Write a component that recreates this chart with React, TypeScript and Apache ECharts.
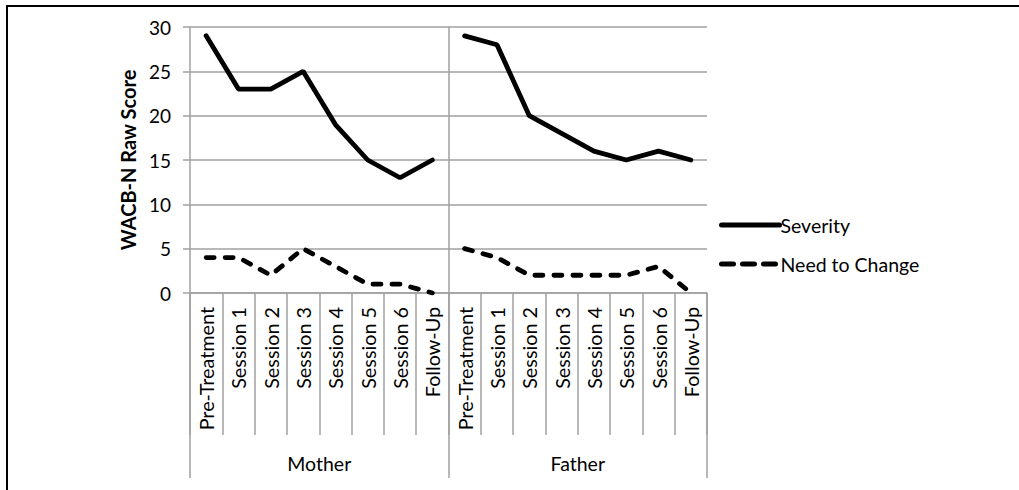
import React, { useEffect, useRef } from "react";
import * as echarts from "echarts";

const sessions = ["Pre-Treatment", "Session 1", "Session 2", "Session 3", "Session 4", "Session 5", "Session 6", "Follow-Up"];
const groups = ["Mother", "Father"];
const categories = [...sessions, ...sessions];
const yTicks = [0, 5, 10, 15, 20, 25, 30];

const motherSeverity = [29, 23, 23, 25, 19, 15, 13, 15];
const fatherSeverity = [29, 28, 20, 18, 16, 15, 16, 15];
const motherNeed = [4, 4, 2, 5, 3, 1, 1, 0];
const fatherNeed = [5, 4, 2, 2, 2, 2, 3, 0];

const GREY = "#a0a0a0";
const FONT = "Lato";

const pad = (n: number) => new Array(n).fill(null);

export default function App() {
  const ref = useRef<HTMLDivElement>(null);
  useEffect(() => {
    if (!ref.current) return;
    const chart = echarts.init(ref.current, undefined, { renderer: "svg" });
    const solid = { color: "#000", width: 4.8, type: "solid" as const, cap: "round" as const };
    const dashed = { color: "#000", width: 4.8, type: [8, 11] as any, cap: "round" as const };
    const mk = (name: string, data: (number | null)[], ls: any) => ({
      name,
      type: "line",
      data,
      symbol: "none",
      showSymbol: false,
      lineStyle: ls,
      itemStyle: { color: "#000" },
      xAxisIndex: 0,
      yAxisIndex: 0,
      z: 3,
    });
    chart.setOption({
      animation: false,
      backgroundColor: "#fff",
      textStyle: { fontFamily: FONT },
      grid: { left: 190, right: 312, top: 27, bottom: 197, containLabel: false },
      legend: {
        show: true,
        orient: "vertical",
        left: 714,
        top: 210,
        itemWidth: 58,
        itemHeight: 12,
        itemGap: 19,
        itemStyle: { opacity: 0 },
        data: [
          { name: "Severity", itemStyle: { opacity: 0 }, lineStyle: { color: "#000", width: 5, type: "solid", cap: "round" } },
          { name: "Need to Change", itemStyle: { opacity: 0 }, lineStyle: { color: "#000", width: 5, type: [12, 9], cap: "round" } },
        ],
        textStyle: { fontFamily: FONT, fontSize: 19.5, color: "#000", padding: [0, 0, 0, -4] },
      },
      xAxis: [
        {
          type: "category",
          data: categories,
          boundaryGap: true,
          position: "bottom",
          axisLine: { show: true, lineStyle: { color: GREY, width: 1.5 } },
          axisTick: { show: true, interval: 0, length: 142, lineStyle: { color: GREY, width: 1.5 } },
          axisLabel: { interval: 0, rotate: 90, margin: 14, fontFamily: FONT, fontSize: 19.8, color: "#000" },
          splitLine: { show: false },
        },
        {
          type: "category",
          data: groups,
          boundaryGap: true,
          position: "bottom",
          axisLine: { show: false },
          axisTick: { show: true, interval: 0, length: 185, lineStyle: { color: GREY, width: 1.5 } },
          axisLabel: { interval: 0, margin: 160, fontFamily: FONT, fontSize: 19.5, color: "#000" },
          splitLine: { show: false },
        },
        {
          type: "value",
          min: 0,
          max: categories.length,
          show: false,
          splitLine: { show: false },
        },
      ],
      yAxis: {
        type: "value",
        min: 0,
        max: 30,
        interval: 5,
        name: "WACB-N Raw Score",
        nameLocation: "middle",
        nameGap: 52,
        nameTextStyle: { fontFamily: FONT, fontSize: 20, fontWeight: "bold", color: "#000" },
        axisLine: { show: true, lineStyle: { color: GREY, width: 1.5 } },
        axisTick: { show: true, length: 7, lineStyle: { color: GREY, width: 1.5 } },
        axisLabel: {
          margin: 19,
          fontFamily: FONT,
          fontSize: 19,
          color: "#000",
          formatter: (v: number) => (yTicks.includes(v) ? String(v) : ""),
        },
        splitLine: { show: true, lineStyle: { color: GREY, width: 1.5 } },
      },
      graphic: [
        {
          type: "rect",
          shape: { x: 7, y: 6, width: 1100, height: 600 },
          style: { fill: "none", stroke: "#000", lineWidth: 2 },
          silent: true,
        },
      ],
      series: [
        {
          name: "groupDivider",
          type: "line",
          xAxisIndex: 2,
          yAxisIndex: 0,
          data: [],
          symbol: "none",
          z: 1,
          markLine: {
            silent: true,
            symbol: "none",
            label: { show: false },
            lineStyle: { color: GREY, width: 1.5, type: "solid" },
            data: [{ xAxis: sessions.length }],
          },
        },
        mk("Severity", [...motherSeverity, ...pad(8)], solid),
        mk("Severity", [...pad(8), ...fatherSeverity], solid),
        mk("Need to Change", [...motherNeed, ...pad(8)], dashed),
        mk("Need to Change", [...pad(8), ...fatherNeed], dashed),
      ],
    });
    return () => chart.dispose();
  }, []);
  return <div ref={ref} style={{ position: "fixed", left: 0, top: 0, width: 1019, height: 490 }} />;
}
